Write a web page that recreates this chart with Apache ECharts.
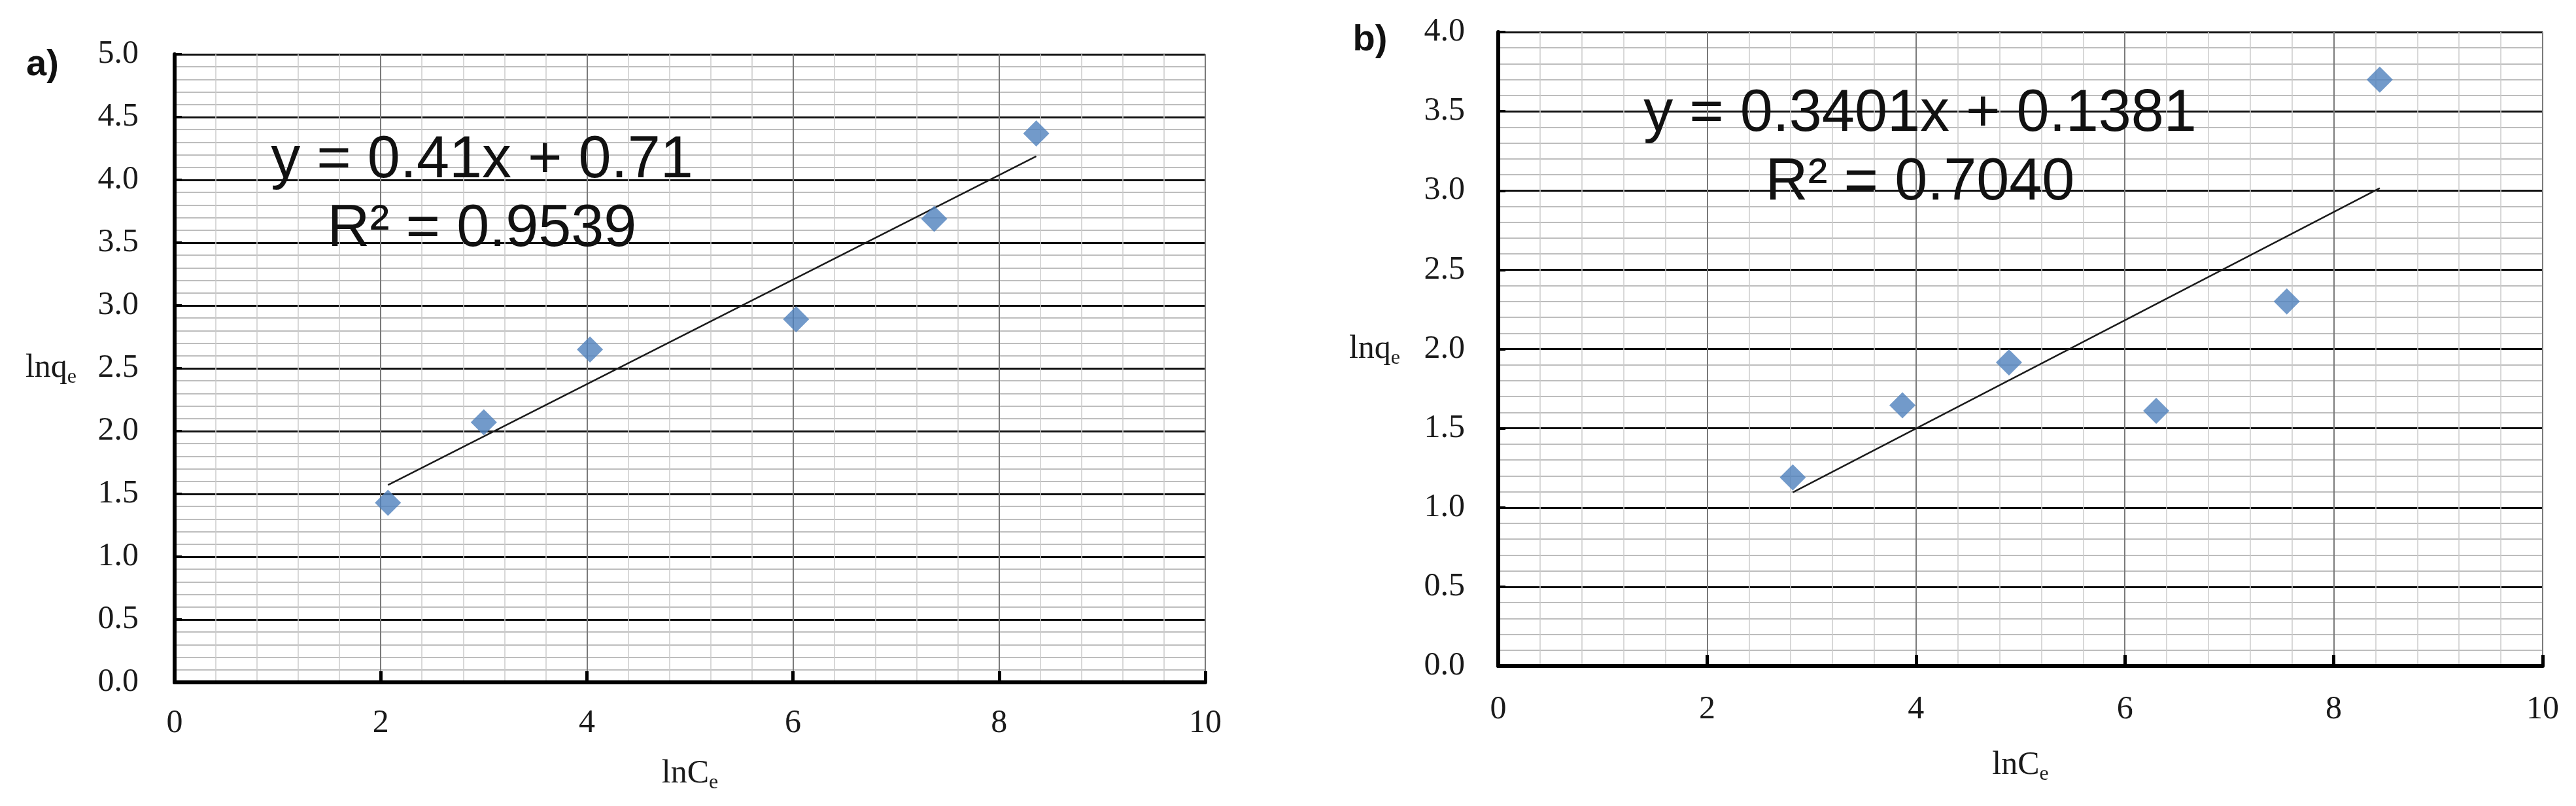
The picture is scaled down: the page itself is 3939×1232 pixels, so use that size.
<!DOCTYPE html>
<html><head><meta charset="utf-8">
<script src="https://cdn.jsdelivr.net/npm/echarts@6/dist/echarts.min.js"></script>
<style>html,body{margin:0;padding:0;background:#fff}#c{width:3939px;height:1232px}</style>
</head><body><div id="c"></div>
<script>
// ---- data ----
const lnCeA = [2.07, 3.00, 4.03, 6.03, 7.37, 8.36];
const lnqeA = [1.43, 2.07, 2.65, 2.89, 3.69, 4.37];
const lnCeB = [2.82, 3.87, 4.89, 6.30, 7.55, 8.44];
const lnqeB = [1.19, 1.645, 1.915, 1.61, 2.30, 3.70];
const eqTextA = ['y = 0.41x + 0.71', 'R² = 0.9539'];
const eqTextB = ['y = 0.3401x + 0.1381', 'R² = 0.7040'];
const panelLabels = ['a)', 'b)'];
const xRange = [0, 10, 2];      // min, max, interval
const yRangeA = [0, 5, 0.5];
const yRangeB = [0, 4, 0.5];

function fit(xs, ys) {
  const n = xs.length;
  const mx = xs.reduce((a, b) => a + b, 0) / n;
  const my = ys.reduce((a, b) => a + b, 0) / n;
  let sxy = 0, sxx = 0;
  for (let i = 0; i < n; i++) { sxy += (xs[i] - mx) * (ys[i] - my); sxx += (xs[i] - mx) ** 2; }
  const k = sxy / sxx, b = my - k * mx;
  const x0 = Math.min(...xs), x1 = Math.max(...xs);
  return [[x0, k * x0 + b], [x1, k * x1 + b]];
}

const SERIF = '"Liberation Serif","Times New Roman",serif';
const SANS = '"Liberation Sans",Arial,sans-serif';
const TXT = '#1a1a1a';

function nameRich() {
  return {
    n: { fontFamily: SERIF, fontSize: 50, color: TXT, lineHeight: 60, verticalAlign: 'middle' },
    s: { fontFamily: SERIF, fontSize: 32, color: TXT, lineHeight: 26, verticalAlign: 'bottom' }
  };
}

function xAxis(gi, labelMargin, nameGap) {
  return {
    type: 'value', gridIndex: gi, min: xRange[0], max: xRange[1], interval: xRange[2],
    name: '{n|lnC}{s|e}', nameLocation: 'middle', nameGap: nameGap,
    nameTextStyle: { rich: nameRich() },
    axisLine: { show: true, onZero: false, lineStyle: { color: '#000', width: 6 } },
    axisTick: { show: true, inside: true, length: 17, lineStyle: { color: '#000', width: 5 } },
    axisLabel: { margin: labelMargin, fontFamily: SERIF, fontSize: 50, color: TXT },
    splitLine: { show: true, lineStyle: { color: '#7a7a7a', width: 2 } },
    minorTick: { show: false, splitNumber: 5 },
    minorSplitLine: { show: true, lineStyle: { color: '#cccccc', width: 1.5 } }
  };
}
function yAxis(gi, r, labelMargin, nameGap) {
  return {
    type: 'value', gridIndex: gi, min: r[0], max: r[1], interval: r[2],
    name: '{n|lnq}{s|e}', nameLocation: 'middle', nameGap: nameGap, nameRotate: 0,
    nameTextStyle: { rich: nameRich() },
    axisLine: { show: true, onZero: false, lineStyle: { color: '#000', width: 6 } },
    axisTick: { show: true, inside: true, length: 11, lineStyle: { color: '#000', width: 4 } },
    axisLabel: { margin: labelMargin, fontFamily: SERIF, fontSize: 50, color: TXT,
                 formatter: v => v.toFixed(1) },
    splitLine: { show: true, lineStyle: { color: '#111', width: 3 } },
    minorTick: { show: false, splitNumber: 5 },
    minorSplitLine: { show: true, lineStyle: { color: '#bdbdbd', width: 2 } }
  };
}

function scatter(gi, xs, ys) {
  return {
    type: 'scatter', xAxisIndex: gi, yAxisIndex: gi, symbol: 'diamond', symbolSize: [40, 40],
    itemStyle: { color: '#4F81BD' }, z: 5,
    data: xs.map((x, i) => [x, ys[i]])
  };
}
function trend(gi, xs, ys) {
  return {
    type: 'line', xAxisIndex: gi, yAxisIndex: gi, symbol: 'none', silent: true, z: 4,
    lineStyle: { color: '#1a1a1a', width: 2.5 }, data: fit(xs, ys)
  };
}

function eq(lines, cx, y1, y2) {
  return lines.map((t, i) => ({
    type: 'text', x: cx, y: i === 0 ? y1 : y2, z: 10,
    style: { text: t, font: '90px ' + SANS, fill: '#111', align: 'center', verticalAlign: 'middle' }
  }));
}
function panel(t, x, y) {
  return { type: 'text', x: x, y: y, z: 10,
    style: { text: t, font: 'bold 56px ' + SANS, fill: '#111', align: 'center', verticalAlign: 'middle' } };
}

const chart = echarts.init(document.getElementById('c'));
chart.setOption({
  backgroundColor: '#fff',
  animation: false,
  grid: [
    { left: 267, top: 83, width: 1576, height: 960 },
    { left: 2291, top: 49, width: 1597, height: 969 }
  ],
  xAxis: [xAxis(0, 38, 110), xAxis(1, 42, 122)],
  yAxis: [yAxis(0, yRangeA, 55, 150), yAxis(1, yRangeB, 51, 150)],
  series: [trend(0, lnCeA, lnqeA), scatter(0, lnCeA, lnqeA),
           trend(1, lnCeB, lnqeB), scatter(1, lnCeB, lnqeB)],
  graphic: [
    panel(panelLabels[0], 65, 100), panel(panelLabels[1], 2095, 62),
    ...eq(eqTextA, 737, 246, 351),
    ...eq(eqTextB, 2936, 175, 280)
  ]
});
</script></body></html>
